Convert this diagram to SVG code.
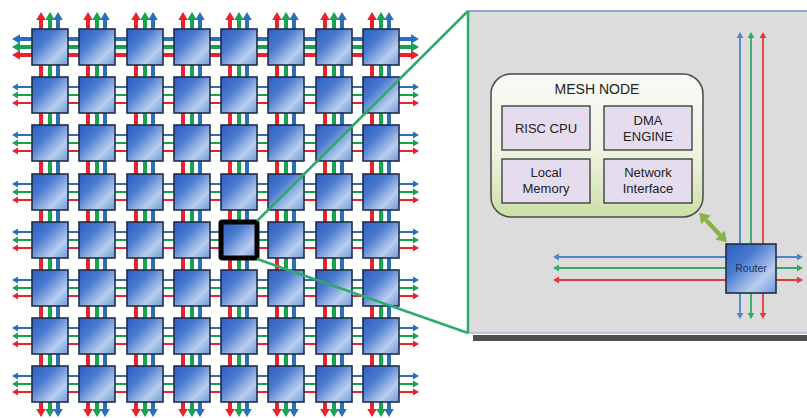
<svg xmlns="http://www.w3.org/2000/svg" width="807" height="418" viewBox="0 0 807 418">
<defs>
<linearGradient id="gNode" x1="0" y1="0" x2="1" y2="1">
<stop offset="0" stop-color="#2b5ebf"/>
<stop offset="0.35" stop-color="#4a7ad0"/>
<stop offset="0.72" stop-color="#b9cdee"/>
<stop offset="1" stop-color="#6f97dc"/>
</linearGradient>
<linearGradient id="gMesh" x1="0" y1="0" x2="0" y2="1">
<stop offset="0" stop-color="#fafaf6"/>
<stop offset="0.55" stop-color="#eef3e2"/>
<stop offset="1" stop-color="#cddfa6"/>
</linearGradient>
<marker id="hrT" viewBox="0 -5 9 10" refX="0" refY="0" markerWidth="9" markerHeight="10" markerUnits="userSpaceOnUse" orient="auto-start-reverse"><path d="M0,-4.8 L8,0 L0,4.8 z" fill="#e8242a"/></marker>
<marker id="hgT" viewBox="0 -5 9 10" refX="0" refY="0" markerWidth="9" markerHeight="10" markerUnits="userSpaceOnUse" orient="auto-start-reverse"><path d="M0,-4.8 L8,0 L0,4.8 z" fill="#17a352"/></marker>
<marker id="hbT" viewBox="0 -5 9 10" refX="0" refY="0" markerWidth="9" markerHeight="10" markerUnits="userSpaceOnUse" orient="auto-start-reverse"><path d="M0,-4.8 L8,0 L0,4.8 z" fill="#2a6fba"/></marker>
<marker id="hrS" viewBox="0 -4 7 8" refX="0" refY="0" markerWidth="7" markerHeight="8" markerUnits="userSpaceOnUse" orient="auto-start-reverse"><path d="M0,-3.6 L6,0 L0,3.6 z" fill="#e8242a"/></marker>
<marker id="hgS" viewBox="0 -4 7 8" refX="0" refY="0" markerWidth="7" markerHeight="8" markerUnits="userSpaceOnUse" orient="auto-start-reverse"><path d="M0,-3.6 L6,0 L0,3.6 z" fill="#17a352"/></marker>
<marker id="hbS" viewBox="0 -4 7 8" refX="0" refY="0" markerWidth="7" markerHeight="8" markerUnits="userSpaceOnUse" orient="auto-start-reverse"><path d="M0,-3.6 L6,0 L0,3.6 z" fill="#2a6fba"/></marker>
<marker id="hrR" viewBox="0 -4 7 8" refX="0" refY="0" markerWidth="7" markerHeight="8" markerUnits="userSpaceOnUse" orient="auto-start-reverse"><path d="M0,-3.4 L6,0 L0,3.4 z" fill="#e53a3a"/></marker>
<marker id="hgR" viewBox="0 -4 7 8" refX="0" refY="0" markerWidth="7" markerHeight="8" markerUnits="userSpaceOnUse" orient="auto-start-reverse"><path d="M0,-3.4 L6,0 L0,3.4 z" fill="#33ab64"/></marker>
<marker id="hbR" viewBox="0 -4 7 8" refX="0" refY="0" markerWidth="7" markerHeight="8" markerUnits="userSpaceOnUse" orient="auto-start-reverse"><path d="M0,-3.4 L6,0 L0,3.4 z" fill="#4a86c8"/></marker>
<marker id="hOl" viewBox="0 -7 11 14" refX="0" refY="0" markerWidth="11" markerHeight="14" markerUnits="userSpaceOnUse" orient="auto-start-reverse"><path d="M0,-6.5 L10,0 L0,6.5 z" fill="#8db04a"/></marker>
</defs>
<style>
.node{fill:url(#gNode);stroke:#1f2d45;stroke-width:1.6}
.hl{fill:url(#gNode);stroke:#000;stroke-width:5}
.vr{stroke:#e8242a;stroke-width:4;marker-start:url(#hrT);marker-end:url(#hrT)}
.vg{stroke:#17a352;stroke-width:4;marker-start:url(#hgT);marker-end:url(#hgT)}
.vb{stroke:#2a6fba;stroke-width:4;marker-start:url(#hbT);marker-end:url(#hbT)}
.tr{stroke:#e8242a;stroke-width:1.8;marker-start:url(#hrS);marker-end:url(#hrS)}
.tg{stroke:#17a352;stroke-width:1.8;marker-start:url(#hgS);marker-end:url(#hgS)}
.tb{stroke:#2a6fba;stroke-width:1.8;marker-start:url(#hbS);marker-end:url(#hbS)}
.rr{stroke:#e53a3a;stroke-width:1.8;marker-start:url(#hrR);marker-end:url(#hrR)}
.rg{stroke:#33ab64;stroke-width:1.8;marker-start:url(#hgR);marker-end:url(#hgR)}
.rb{stroke:#4a86c8;stroke-width:1.8;marker-start:url(#hbR);marker-end:url(#hbR)}
.zoom{stroke:#2eaa70;stroke-width:2.5;fill:none}
.box{fill:#e5dded;stroke:#333;stroke-width:1.3}
.t{font-family:"Liberation Sans",Arial,sans-serif;fill:#222;text-anchor:middle}
</style>

<!-- detail panel -->
<g id="panel">
<rect x="468" y="11" width="339" height="322" fill="#dcdcdc"/>
<line x1="468" y1="11" x2="807" y2="11" stroke="#8ea6d6" stroke-width="2"/>
<line x1="468" y1="333" x2="807" y2="333" stroke="#a9b8d8" stroke-width="1.5"/>
<rect x="473" y="335" width="334" height="6" fill="#4d4f4f"/>
</g>

<g id="connectors">
<!-- grid vertical links -->
<line class="vr" x1="41" y1="20" x2="41" y2="409"/><line class="vg" x1="50" y1="20" x2="50" y2="409"/><line class="vb" x1="58" y1="20" x2="58" y2="409"/>
<line class="vr" x1="88" y1="20" x2="88" y2="409"/><line class="vg" x1="97" y1="20" x2="97" y2="409"/><line class="vb" x1="105" y1="20" x2="105" y2="409"/>
<line class="vr" x1="136" y1="20" x2="136" y2="409"/><line class="vg" x1="145" y1="20" x2="145" y2="409"/><line class="vb" x1="153" y1="20" x2="153" y2="409"/>
<line class="vr" x1="183" y1="20" x2="183" y2="409"/><line class="vg" x1="192" y1="20" x2="192" y2="409"/><line class="vb" x1="200" y1="20" x2="200" y2="409"/>
<line class="vr" x1="230" y1="20" x2="230" y2="409"/><line class="vg" x1="239" y1="20" x2="239" y2="409"/><line class="vb" x1="247" y1="20" x2="247" y2="409"/>
<line class="vr" x1="277" y1="20" x2="277" y2="409"/><line class="vg" x1="286" y1="20" x2="286" y2="409"/><line class="vb" x1="294" y1="20" x2="294" y2="409"/>
<line class="vr" x1="325" y1="20" x2="325" y2="409"/><line class="vg" x1="334" y1="20" x2="334" y2="409"/><line class="vb" x1="342" y1="20" x2="342" y2="409"/>
<line class="vr" x1="372" y1="20" x2="372" y2="409"/><line class="vg" x1="381" y1="20" x2="381" y2="409"/><line class="vb" x1="389" y1="20" x2="389" y2="409"/>
<!-- grid horizontal links -->
<line class="vb" x1="20" y1="39" x2="411" y2="39"/><line class="vg" x1="20" y1="47" x2="411" y2="47"/><line class="vr" x1="20" y1="55" x2="411" y2="55"/>
<line class="tb" x1="18" y1="87" x2="413" y2="87"/><line class="tg" x1="18" y1="95" x2="413" y2="95"/><line class="tr" x1="18" y1="103" x2="413" y2="103"/>
<line class="tb" x1="18" y1="135" x2="413" y2="135"/><line class="tg" x1="18" y1="143" x2="413" y2="143"/><line class="tr" x1="18" y1="151" x2="413" y2="151"/>
<line class="tb" x1="18" y1="184" x2="413" y2="184"/><line class="tg" x1="18" y1="192" x2="413" y2="192"/><line class="tr" x1="18" y1="200" x2="413" y2="200"/>
<line class="tb" x1="18" y1="232" x2="413" y2="232"/><line class="tg" x1="18" y1="240" x2="413" y2="240"/><line class="tr" x1="18" y1="248" x2="413" y2="248"/>
<line class="tb" x1="18" y1="280" x2="413" y2="280"/><line class="tg" x1="18" y1="288" x2="413" y2="288"/><line class="tr" x1="18" y1="296" x2="413" y2="296"/>
<line class="tb" x1="18" y1="328" x2="413" y2="328"/><line class="tg" x1="18" y1="336" x2="413" y2="336"/><line class="tr" x1="18" y1="344" x2="413" y2="344"/>
<line class="tb" x1="18" y1="376" x2="413" y2="376"/><line class="tg" x1="18" y1="384" x2="413" y2="384"/><line class="tr" x1="18" y1="392" x2="413" y2="392"/>
<!-- router links -->
<line class="rb" x1="740" y1="38" x2="740" y2="313"/><line class="rg" x1="751" y1="38" x2="751" y2="313"/><line class="rr" x1="763" y1="38" x2="763" y2="313"/>
<line class="rb" x1="559" y1="257" x2="797" y2="257"/><line class="rg" x1="559" y1="268" x2="797" y2="268"/><line class="rr" x1="559" y1="280" x2="797" y2="280"/>
<!-- node to router -->
<line x1="706" y1="220" x2="720" y2="235" stroke="#8db04a" stroke-width="4.5" style="marker-start:url(#hOl);marker-end:url(#hOl)"/>
</g>

<!-- grid nodes -->
<g id="n-r0c0"><rect class="node" x="32" y="29" width="36" height="36"/></g>
<g id="n-r0c1"><rect class="node" x="79" y="29" width="36" height="36"/></g>
<g id="n-r0c2"><rect class="node" x="127" y="29" width="36" height="36"/></g>
<g id="n-r0c3"><rect class="node" x="174" y="29" width="36" height="36"/></g>
<g id="n-r0c4"><rect class="node" x="221" y="29" width="36" height="36"/></g>
<g id="n-r0c5"><rect class="node" x="268" y="29" width="36" height="36"/></g>
<g id="n-r0c6"><rect class="node" x="316" y="29" width="36" height="36"/></g>
<g id="n-r0c7"><rect class="node" x="363" y="29" width="36" height="36"/></g>
<g id="n-r1c0"><rect class="node" x="32" y="77" width="36" height="36"/></g>
<g id="n-r1c1"><rect class="node" x="79" y="77" width="36" height="36"/></g>
<g id="n-r1c2"><rect class="node" x="127" y="77" width="36" height="36"/></g>
<g id="n-r1c3"><rect class="node" x="174" y="77" width="36" height="36"/></g>
<g id="n-r1c4"><rect class="node" x="221" y="77" width="36" height="36"/></g>
<g id="n-r1c5"><rect class="node" x="268" y="77" width="36" height="36"/></g>
<g id="n-r1c6"><rect class="node" x="316" y="77" width="36" height="36"/></g>
<g id="n-r1c7"><rect class="node" x="363" y="77" width="36" height="36"/></g>
<g id="n-r2c0"><rect class="node" x="32" y="125" width="36" height="36"/></g>
<g id="n-r2c1"><rect class="node" x="79" y="125" width="36" height="36"/></g>
<g id="n-r2c2"><rect class="node" x="127" y="125" width="36" height="36"/></g>
<g id="n-r2c3"><rect class="node" x="174" y="125" width="36" height="36"/></g>
<g id="n-r2c4"><rect class="node" x="221" y="125" width="36" height="36"/></g>
<g id="n-r2c5"><rect class="node" x="268" y="125" width="36" height="36"/></g>
<g id="n-r2c6"><rect class="node" x="316" y="125" width="36" height="36"/></g>
<g id="n-r2c7"><rect class="node" x="363" y="125" width="36" height="36"/></g>
<g id="n-r3c0"><rect class="node" x="32" y="174" width="36" height="36"/></g>
<g id="n-r3c1"><rect class="node" x="79" y="174" width="36" height="36"/></g>
<g id="n-r3c2"><rect class="node" x="127" y="174" width="36" height="36"/></g>
<g id="n-r3c3"><rect class="node" x="174" y="174" width="36" height="36"/></g>
<g id="n-r3c4"><rect class="node" x="221" y="174" width="36" height="36"/></g>
<g id="n-r3c5"><rect class="node" x="268" y="174" width="36" height="36"/></g>
<g id="n-r3c6"><rect class="node" x="316" y="174" width="36" height="36"/></g>
<g id="n-r3c7"><rect class="node" x="363" y="174" width="36" height="36"/></g>
<g id="n-r4c0"><rect class="node" x="32" y="222" width="36" height="36"/></g>
<g id="n-r4c1"><rect class="node" x="79" y="222" width="36" height="36"/></g>
<g id="n-r4c2"><rect class="node" x="127" y="222" width="36" height="36"/></g>
<g id="n-r4c3"><rect class="node" x="174" y="222" width="36" height="36"/></g>
<g id="n-r4c4"><rect class="hl" x="221" y="222" width="36" height="36" rx="1.5"/></g>
<g id="n-r4c5"><rect class="node" x="268" y="222" width="36" height="36"/></g>
<g id="n-r4c6"><rect class="node" x="316" y="222" width="36" height="36"/></g>
<g id="n-r4c7"><rect class="node" x="363" y="222" width="36" height="36"/></g>
<g id="n-r5c0"><rect class="node" x="32" y="270" width="36" height="36"/></g>
<g id="n-r5c1"><rect class="node" x="79" y="270" width="36" height="36"/></g>
<g id="n-r5c2"><rect class="node" x="127" y="270" width="36" height="36"/></g>
<g id="n-r5c3"><rect class="node" x="174" y="270" width="36" height="36"/></g>
<g id="n-r5c4"><rect class="node" x="221" y="270" width="36" height="36"/></g>
<g id="n-r5c5"><rect class="node" x="268" y="270" width="36" height="36"/></g>
<g id="n-r5c6"><rect class="node" x="316" y="270" width="36" height="36"/></g>
<g id="n-r5c7"><rect class="node" x="363" y="270" width="36" height="36"/></g>
<g id="n-r6c0"><rect class="node" x="32" y="318" width="36" height="36"/></g>
<g id="n-r6c1"><rect class="node" x="79" y="318" width="36" height="36"/></g>
<g id="n-r6c2"><rect class="node" x="127" y="318" width="36" height="36"/></g>
<g id="n-r6c3"><rect class="node" x="174" y="318" width="36" height="36"/></g>
<g id="n-r6c4"><rect class="node" x="221" y="318" width="36" height="36"/></g>
<g id="n-r6c5"><rect class="node" x="268" y="318" width="36" height="36"/></g>
<g id="n-r6c6"><rect class="node" x="316" y="318" width="36" height="36"/></g>
<g id="n-r6c7"><rect class="node" x="363" y="318" width="36" height="36"/></g>
<g id="n-r7c0"><rect class="node" x="32" y="366" width="36" height="36"/></g>
<g id="n-r7c1"><rect class="node" x="79" y="366" width="36" height="36"/></g>
<g id="n-r7c2"><rect class="node" x="127" y="366" width="36" height="36"/></g>
<g id="n-r7c3"><rect class="node" x="174" y="366" width="36" height="36"/></g>
<g id="n-r7c4"><rect class="node" x="221" y="366" width="36" height="36"/></g>
<g id="n-r7c5"><rect class="node" x="268" y="366" width="36" height="36"/></g>
<g id="n-r7c6"><rect class="node" x="316" y="366" width="36" height="36"/></g>
<g id="n-r7c7"><rect class="node" x="363" y="366" width="36" height="36"/></g>

<!-- zoom lines -->
<g id="zoom-lines">
<line class="zoom" x1="257" y1="221" x2="468" y2="11"/>
<line class="zoom" x1="257" y1="259" x2="468" y2="333"/>
<line class="zoom" x1="468" y1="11" x2="468" y2="333"/>
</g>

<!-- mesh node -->
<g id="mesh-node">
<rect x="491" y="74" width="212" height="143" rx="20" fill="url(#gMesh)" stroke="#4a4a4a" stroke-width="1.5"/>
<text class="t" x="597" y="94" font-size="14">MESH NODE</text>
</g>
<g id="risc-cpu"><rect class="box" x="502" y="106" width="88" height="44"/><text class="t" x="546" y="133" font-size="13">RISC CPU</text></g>
<g id="dma-engine"><rect class="box" x="604" y="106" width="88" height="44"/><text class="t" x="648" y="125" font-size="13">DMA</text><text class="t" x="648" y="141" font-size="13">ENGINE</text></g>
<g id="local-memory"><rect class="box" x="502" y="159" width="88" height="44"/><text class="t" x="546" y="177" font-size="13">Local</text><text class="t" x="546" y="193" font-size="13">Memory</text></g>
<g id="network-interface"><rect class="box" x="604" y="159" width="88" height="44"/><text class="t" x="648" y="177" font-size="13">Network</text><text class="t" x="648" y="193" font-size="13">Interface</text></g>

<!-- router -->
<g id="router">
<rect class="node" x="726" y="244" width="50" height="49"/>
<text x="751" y="272" font-family="'Liberation Sans',Arial,sans-serif" font-size="10.5" fill="#1d2f5a" text-anchor="middle">Router</text>
</g>
</svg>
